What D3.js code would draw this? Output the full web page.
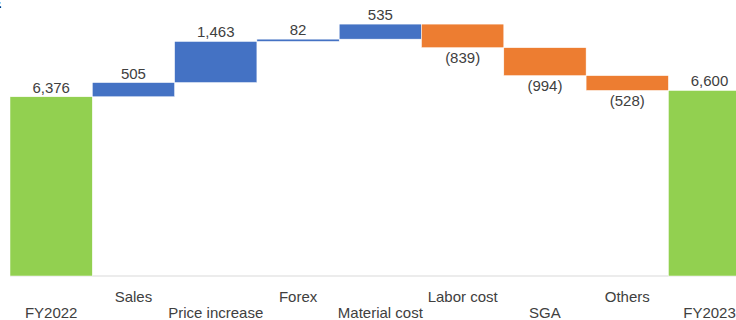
<!DOCTYPE html>
<meta charset="utf-8">
<head>
  <meta charset="utf-8">
  <title>Waterfall</title>
  <style>
    body { margin: 0; background: #fff; }
    text { font-family: "Liberation Sans", Arial, sans-serif; fill: #404040; }
  </style>
</head>
<body>
<script src="https://cdn.jsdelivr.net/npm/d3@7"></script>
<script>

// data
var categories = ["FY2022", "Sales", "Price increase", "Forex", "Material cost",
                  "Labor cost", "SGA", "Others", "FY2023"];
var values = [6376, 505, 1463, 82, 535, -839, -994, -528, 6600];
var kinds = ["total", "step", "step", "step", "step", "step", "step", "step", "total"];
var valueLabels = ["6,376", "505", "1,463", "82", "535", "(839)", "(994)", "(528)", "6,600"];

var colors = {total: "#92d050", up: "#4472c4", down: "#ed7d31"};

var width = 736, height = 320;

// build start / end of each bar
var running = 0;
var data = categories.map(function(c, i) {
  var d = {name: c, value: values[i], kind: kinds[i], label: valueLabels[i], row: i % 2};
  if (d.kind === "total") {
    d.start = 0; d.end = d.value; running = d.value;
  } else {
    d.start = running; d.end = running + d.value; running = d.end;
  }
  return d;
});

var x = d3.scaleBand()
    .domain(categories)
    .range([10, 10 + 82.3 * categories.length])
    .padding(0);

var y = d3.scaleLinear()
    .domain([0, 9000])
    .range([276, 23]);

var svg = d3.select("body").append("svg")
    .attr("width", width)
    .attr("height", height);

// cut-off title glyph in the corner (the reference is cropped here)
svg.append("text")
    .attr("x", -8)
    .attr("y", 8)
    .style("font-size", "14px")
    .style("font-weight", "bold")
    .style("fill", "#000")
    .text("E");

// baseline
svg.append("line")
    .attr("x1", x.range()[0]).attr("x2", width)
    .attr("y1", y(0)).attr("y2", y(0))
    .attr("stroke", "#d9d9d9")
    .attr("stroke-width", 1);

svg.selectAll(".bar")
    .data(data)
    .enter().append("rect")
    .attr("class", "bar")
    .attr("x", function(d) { return x(d.name); })
    .attr("width", x.bandwidth())
    .attr("y", function(d) { return y(Math.max(d.start, d.end)); })
    .attr("height", function(d) { return Math.abs(y(d.start) - y(d.end)); })
    .style("fill", function(d) {
      if (d.kind === "total") return colors.total;
      return d.value >= 0 ? colors.up : colors.down;
    })
    .style("stroke", "#fff")
    .style("stroke-width", 0.5);

// value labels
svg.selectAll(".val")
    .data(data)
    .enter().append("text")
    .attr("class", "val")
    .attr("x", function(d) { return x(d.name) + x.bandwidth() / 2; })
    .attr("y", function(d) {
      return d.value >= 0 ? y(Math.max(d.start, d.end)) - 4 : y(Math.min(d.start, d.end)) + 15.5;
    })
    .attr("text-anchor", "middle")
    .style("font-size", "15px")
    .text(function(d) { return d.label; });

// category labels, staggered on two rows
svg.selectAll(".cat")
    .data(data)
    .enter().append("text")
    .attr("class", "cat")
    .attr("x", function(d) { return x(d.name) + x.bandwidth() / 2; })
    .attr("y", function(d) { return d.row === 1 ? 302 : 318; })
    .attr("text-anchor", "middle")
    .style("font-size", "15px")
    .text(function(d) { return d.name; });

</script>
</body>
